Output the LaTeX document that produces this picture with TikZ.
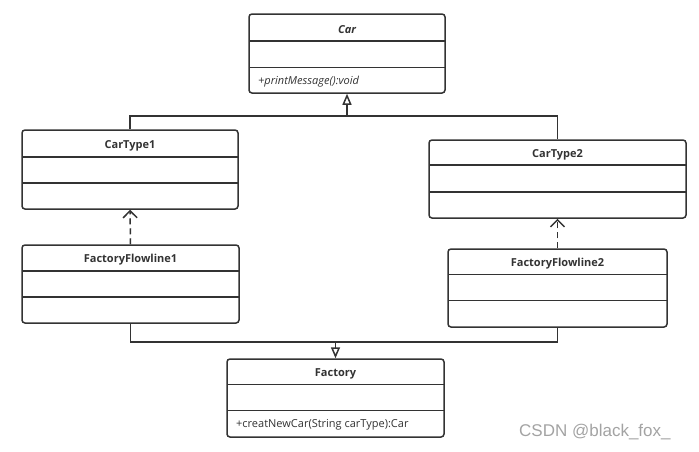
\documentclass[tikz,border=0pt]{standalone}
\usepackage{fontspec}
\setmainfont{Open Sans}
\newfontfamily\wmfont{Liberation Sans}
\usetikzlibrary{arrows.meta,calc}
\definecolor{ln}{HTML}{333333}
\definecolor{wm}{HTML}{A3A3A3}
\begin{document}
\begin{tikzpicture}[x=1pt,y=-1pt,
  umlbox/.style={draw=ln,line width=1.5pt,rounded corners=3pt,inner sep=0pt,fill=white},
  divider/.style={draw=ln,line width=1.5pt},
  title/.style={font=\fontsize{11}{13}\selectfont\bfseries,text=ln,inner sep=0pt},
  member/.style={font=\fontsize{11}{13}\selectfont,text=ln,inner sep=0pt,anchor=west},
  conn/.style={draw=ln,line width=1.5pt},
  gen/.style={conn,-{Triangle[open,length=11pt,width=9pt,line width=1.5pt]}},
  dep/.style={conn,dash pattern=on 6pt off 4pt,-{Straight Barb[length=7pt,width=14pt,line width=1.5pt]}}
]
\useasboundingbox (0,0) rectangle (699,451);

% Car
\node[umlbox,minimum width=196pt,minimum height=79pt] (car) at (347,53.5) {};
\draw[divider] (249,41) -- (445,41);
\draw[divider] (249,67.5) -- (445,67.5);
\node[title,font=\fontsize{11}{13}\selectfont\bfseries\itshape] (cart) at (347,29.5) {Car};
\node[member,font=\fontsize{11}{13}\selectfont\itshape] (carm) at (258,81.5) {+printMessage():void};

% CarType1
\node[umlbox,minimum width=216pt,minimum height=79pt] (ct1) at (130,169.5) {};
\draw[divider] (22,157) -- (238,157);
\draw[divider] (22,183) -- (238,183);
\node[title] (ct1t) at (130,145.5) {CarType1};

% CarType2
\node[umlbox,minimum width=257pt,minimum height=78pt] (ct2) at (557.5,179) {};
\draw[divider] (429,165) -- (686,165);
\draw[divider] (429,192) -- (686,192);
\node[title] (ct2t) at (557.5,154.5) {CarType2};

% FactoryFlowline1
\node[umlbox,minimum width=217pt,minimum height=78pt] (ff1) at (130.5,284) {};
\draw[divider] (22,271) -- (239,271);
\draw[divider] (22,297) -- (239,297);
\node[title] (ff1t) at (130.5,259.5) {FactoryFlowline1};

% FactoryFlowline2
\node[umlbox,minimum width=219pt,minimum height=78pt] (ff2) at (557.5,288) {};
\draw[divider] (448,274.5) -- (667,274.5);
\draw[divider] (448,300.5) -- (667,300.5);
\node[title] (ff2t) at (557.5,263.5) {FactoryFlowline2};

% Factory
\node[umlbox,minimum width=217pt,minimum height=78pt] (fac) at (335.5,398) {};
\draw[divider] (227,384.5) -- (444,384.5);
\draw[divider] (227,410.5) -- (444,410.5);
\node[title] (fact) at (335.5,373.5) {Factory};
\node[member] (facm) at (236,425) {+creatNewCar(String carType):Car};

% connectors
\coordinate (j1) at (347,116);
\coordinate (j2) at (335.5,342);
\draw[conn] (ct1.north) |- (j1) -| (ct2.north);
\draw[gen] (j1) -- (car.south);
\draw[dep] (ff1.north) -- (ct1.south);
\draw[dep] (ff2.north) -- (ct2.south);
\draw[conn] (ff1.south) |- (j2);
\draw[conn] (ff2.south) |- (j2);
\draw[gen] (j2) -- (fac.north);

% watermark
\node[font=\wmfont\fontsize{17}{20}\selectfont,text=wm,inner sep=0pt,anchor=west] (wmk) at (519,432) {CSDN @black\_fox\_};
\end{tikzpicture}
\end{document}
